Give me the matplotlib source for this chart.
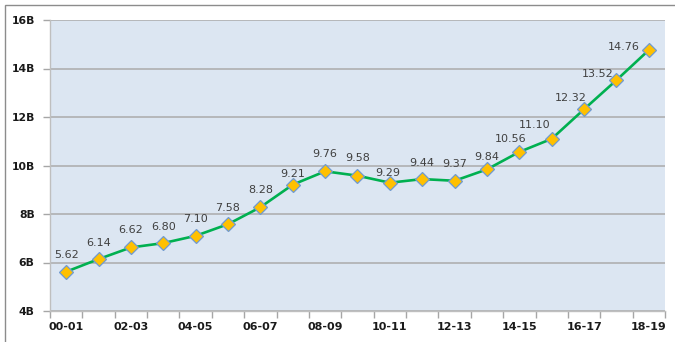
import matplotlib
matplotlib.use("Agg")
import matplotlib.pyplot as plt
from matplotlib.patches import Rectangle
import numpy as np

# Fiscal years and values (billions)
years = ["00-01", "01-02", "02-03", "03-04", "04-05", "05-06", "06-07",
         "07-08", "08-09", "09-10", "10-11", "11-12", "12-13", "13-14",
         "14-15", "15-16", "16-17", "17-18", "18-19"]
values = [5.62, 6.14, 6.62, 6.80, 7.10, 7.58, 8.28, 9.21, 9.76, 9.58,
          9.29, 9.44, 9.37, 9.84, 10.56, 11.10, 12.32, 13.52, 14.76]
y_ticks = [4, 6, 8, 10, 12, 14, 16]
y_tick_labels = ["4B", "6B", "8B", "10B", "12B", "14B", "16B"]

# Label placement (pixel offsets from each marker)
label_dx = [0, 0, 0, 0, 0, 0, 0, 0, 0, 0, -2, 0, 0, 0, -9, -17, -13, -19, -25]
label_dy = [17, 16, 17, 16, 17, 16, 17, 11, 17, 18, 10, 16, 17, 12, 13, 14, 11, 6, 3]

W, H = 675, 342
fig = plt.figure(figsize=(W / 100, H / 100), dpi=100)
fig.patch.set_facecolor("white")

# outer frame (top and left edges visible)
fig.add_artist(Rectangle((5 / W, -0.1), 1.2, (H - 5) / H + 0.1,
                         transform=fig.transFigure, fill=False,
                         edgecolor="#8c8c8c", lw=1.0))

left, right, top, bottom = 50, 665, 20, 311
ax = fig.add_axes([left / W, 1 - bottom / H, (right - left) / W, (bottom - top) / H])
ax.set_facecolor("#DCE6F2")

x = np.arange(len(years))
ax.set_xlim(-0.5, len(years) - 0.5)
ax.set_ylim(4, 16)

ax.set_yticks(y_ticks)
ax.set_yticklabels(y_tick_labels, fontsize=7.8, fontweight="bold", color="#1a1a1a")
ax.yaxis.grid(True, color="#ABABAB", lw=1.1)
ax.set_axisbelow(True)

# category labels on every other year, tick marks at category boundaries
ax.set_xticks(x[::2])
ax.set_xticklabels(years[::2], fontsize=8, fontweight="bold", color="#1a1a1a")
ax.tick_params(axis="x", which="major", length=0, pad=8)
ax.set_xticks(np.arange(len(years) + 1) - 0.5, minor=True)
ax.tick_params(axis="x", which="minor", length=5, color="#A6A6A6", width=1)
ax.tick_params(axis="y", length=5, color="#A6A6A6", width=1, pad=6)

for side in ["top", "right"]:
    ax.spines[side].set_visible(False)
ax.spines["left"].set_color("#BFBFBF")
ax.spines["bottom"].set_color("#BFBFBF")
ax.spines["left"].set_linewidth(1.0)
ax.spines["bottom"].set_linewidth(1.0)

ax.plot(x, values, color="#00B050", lw=1.9, marker="D", markersize=6.8,
        markerfacecolor="#FFC000", markeredgecolor="#6F9AD2",
        markeredgewidth=0.9, zorder=3)

for xi, v, dx, dy in zip(x, values, label_dx, label_dy):
    ax.annotate(f"{v:.2f}", (xi, v), xytext=(dx, dy), textcoords="offset pixels",
                ha="center", va="center", fontsize=8, color="#404040", zorder=4)

fig.savefig("out.png", dpi=100, facecolor="white")
